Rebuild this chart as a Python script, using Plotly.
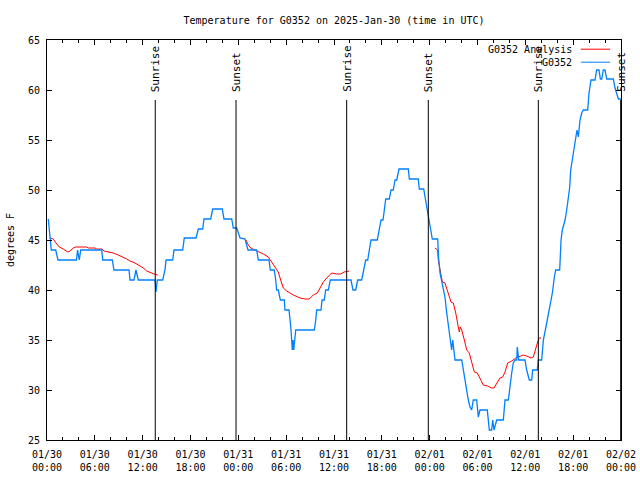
import pandas as pd
import plotly.graph_objects as go

BASE = pd.Timestamp("2025-01-30 00:00")

# Observed temperature, G0352 (hours since 01/30 00:00 UTC, degrees F)
obs_hours = [0.16, 0.34, 0.54, 1.09, 1.38, 3.70, 3.83, 4.05, 4.23, 6.86, 6.99, 8.19, 8.40, 10.29,
             10.41, 10.91, 11.16, 11.45, 13.55, 13.67, 13.84, 14.51, 14.80, 14.93, 15.77, 15.93,
             17.02, 17.22, 18.69, 18.98, 19.53, 19.69, 20.53, 20.79, 21.99, 22.20, 23.17, 23.37,
             23.80, 24.21, 24.84, 25.21, 26.30, 26.51, 27.85, 28.01, 28.51, 28.69, 28.81, 29.01,
             29.27, 29.77, 29.85, 30.36, 30.48, 30.61, 30.69, 30.77, 30.86, 30.95, 31.20, 33.53,
             33.71, 33.83, 34.37, 34.50, 34.78, 34.96, 35.29, 35.54, 38.13, 38.38, 38.72, 38.97,
             39.47, 39.68, 39.98, 40.23, 40.43, 40.64, 41.43, 41.65, 41.90, 42.15, 42.27, 42.49,
             42.94, 43.15, 43.44, 43.65, 43.87, 44.15, 45.32, 45.45, 46.57, 46.70, 47.25, 47.42,
             47.70, 47.92, 48.17, 48.33, 49.01, 49.11, 49.30, 49.51, 49.71, 49.92, 50.14, 50.34,
             50.55, 50.76, 50.89, 51.05, 51.18, 52.02, 52.22, 52.43, 52.65, 52.85, 53.06, 53.27,
             53.47, 53.90, 54.10, 54.31, 55.23, 55.36, 55.48, 55.78, 55.91, 56.07, 56.41, 57.24,
             57.45, 57.87, 58.08, 58.29, 58.49, 58.71, 58.92, 58.99, 59.17, 59.96, 60.17, 60.50,
             60.80, 60.92, 61.50, 61.63, 62.05, 62.26, 62.68, 63.10, 63.39, 63.64, 63.81, 64.31,
             64.48, 64.64, 64.98, 65.19, 65.39, 65.57, 65.69, 65.94, 66.23, 66.48, 66.65, 66.86,
             67.07, 67.27, 67.82, 67.99, 68.24, 68.74, 68.95, 69.24, 69.41, 69.58, 69.78, 69.99,
             70.21, 71.04, 71.25, 71.67, 72.00]
obs_temp = [47.1, 45.7, 44.0, 44.0, 43.0, 43.0, 44.0, 43.0, 44.0, 44.0, 43.0, 43.0, 42.0, 42.0,
            41.0, 41.0, 42.0, 41.0, 41.0, 39.8, 41.0, 41.0, 42.0, 43.0, 43.0, 44.0,
            44.0, 45.2, 45.2, 46.1, 46.1, 47.1, 47.1, 48.1, 48.1, 47.1, 47.1, 46.2,
            46.2, 45.2, 45.1, 44.0, 44.0, 43.0, 43.0, 42.0, 42.0, 41.0, 40.0, 40.0,
            39.0, 39.0, 38.0, 38.0, 37.2, 36.0, 35.0, 34.0, 35.0, 34.0, 36.0, 36.0,
            37.0, 38.0, 38.0, 39.0, 39.0, 40.0, 40.0, 41.0, 41.0, 40.0, 40.0, 41.0,
            41.0, 42.0, 43.0, 43.0, 44.0, 45.0, 45.0, 46.0, 47.0, 47.0, 48.0, 49.1,
            49.1, 50.0, 50.0, 51.0, 51.0, 52.1, 52.1, 51.1, 51.1, 50.1, 50.1, 49.1,
            48.0, 47.0, 46.0, 45.1, 45.1, 43.3, 41.7, 40.8, 40.0, 39.3, 37.7, 36.3,
            35.0, 34.0, 35.0, 34.0, 33.0, 33.0, 32.0, 30.7, 30.0, 29.0, 28.3, 28.0,
            29.0, 29.0, 27.3, 28.0, 28.0, 27.0, 26.0, 26.0, 27.0, 26.0, 27.0, 27.0,
            29.0, 29.0, 30.7, 31.7, 32.7, 33.0, 33.0, 34.3, 33.0, 33.0, 32.0, 31.0,
            31.0, 32.0, 32.0, 33.0, 33.0, 35.0, 36.7, 38.3, 39.7, 41.3, 42.0, 42.0,
            45.0, 46.0, 47.0, 48.0, 49.0, 50.3, 52.0, 53.3, 54.7, 56.0, 55.3, 57.0,
            57.7, 58.0, 58.0, 59.7, 61.0, 61.0, 62.0, 62.0, 61.1, 61.1, 62.0, 62.0,
            61.1, 61.1, 60.2, 59.1, 59.1]

# Analysis temperature (three separate stretches)
ana_hours = [0.38, 0.79, 1.13, 1.54, 2.04, 2.60, 2.89, 3.30, 3.60, 4.98, 5.18, 6.02, 6.23, 6.86,
             7.15, 7.69, 8.32, 8.94, 9.57, 10.00, 10.41, 11.04, 11.67, 12.08, 12.51, 13.01, 13.42,
             13.89, None,
             24.96, 25.25, 25.55, 26.09, 26.72, 27.13, 27.76, 28.19, 28.60, 29.01, 29.31, 29.64,
             30.07, 30.48, 30.90, 31.74, 32.36, 32.90, 33.40, 33.91, 34.24, 34.66, 35.09, 35.71,
             36.34, 36.84, 37.26, 37.92, None,
             48.67, 49.01, 49.08, 49.30, 49.59, 49.92, 50.14, 50.43, 50.68, 50.97, 51.27, 51.59,
             51.72, 51.84, 52.02, 52.35, 52.65, 52.97, 53.27, 53.60, 53.98, 54.31, 54.73, 55.28,
             55.78, 56.07, 56.41, 56.82, 57.16, 57.45, 57.79, 58.29, 58.79, 59.21, 59.75, 60.17,
             60.71, 61.00, 61.30, 61.55, 61.75, 61.97]
ana_temp = [45.2, 45.1, 44.7, 44.3, 44.1, 43.8, 43.9, 44.2, 44.3, 44.3, 44.2, 44.2, 44.1, 44.1,
            43.9, 43.8, 43.7, 43.5, 43.3, 43.1, 42.9, 42.7, 42.4, 42.2, 41.9, 41.7, 41.6,
            41.5, None,
            45.0, 44.5, 44.2, 44.0, 43.8, 43.6, 43.3, 42.8, 42.2, 41.8, 41.0, 40.2,
            39.9, 39.7, 39.5, 39.2, 39.1, 39.1, 39.5, 39.7, 40.2, 40.8, 41.2, 41.7,
            41.6, 41.6, 41.8, 41.9, None,
            44.2, 44.0, 43.0, 42.0, 40.8, 40.7, 40.2, 39.5, 38.8, 38.7, 37.7, 36.3,
            35.8, 36.3, 36.0, 35.0, 34.0, 33.7, 32.7, 31.8, 31.7, 31.2, 30.5, 30.4,
            30.2, 30.2, 30.7, 31.2, 31.3, 31.8, 32.7, 32.9, 33.2, 33.3, 33.5, 33.4,
            33.2, 33.3, 34.2, 34.8, 35.2, 35.2]

sun_hours = [13.58, 23.71, 37.59, 47.83, 61.63, 71.96]
sun_labels = ["Sunrise", "Sunset", "Sunrise", "Sunset", "Sunrise", "Sunset"]

series_names = ["G0352 Analysis", "G0352"]
series_colors = ["#ff0000", "#0080ff"]


def to_time(hours):
    return [None if h is None else BASE + pd.Timedelta(hours=h) for h in hours]


FONT = "DejaVu Sans Mono"
W, H = 640, 480

fig = go.Figure()
fig.add_trace(go.Scatter(x=to_time(ana_hours), y=ana_temp, mode="lines", name=series_names[0],
                         line=dict(color=series_colors[0], width=1), connectgaps=False))
fig.add_trace(go.Scatter(x=to_time(obs_hours), y=obs_temp, mode="lines", name=series_names[1],
                         line=dict(color=series_colors[1], width=1.3)))

for h, lab in zip(sun_hours, sun_labels):
    t = BASE + pd.Timedelta(hours=h)
    fig.add_shape(type="line", xref="x", yref="y", x0=t, x1=t, y0=25, y1=59,
                  line=dict(color="black", width=1))
    fig.add_annotation(x=t, y=59, xref="x", yref="y", text=lab, textangle=-90, showarrow=False,
                       xanchor="center", yanchor="bottom", yshift=6,
                       font=dict(family=FONT, size=11, color="black"))

# Legend (text left, line sample right, like the original)
for i, (nm, col) in enumerate(zip(series_names, series_colors)):
    yy = 0.977 - i * 0.0325
    fig.add_annotation(x=0.918, y=yy, xref="paper", yref="paper", text=nm, showarrow=False,
                       xanchor="right", yanchor="middle",
                       font=dict(family=FONT, size=10, color="black"))
    fig.add_shape(type="line", xref="paper", yref="paper", x0=0.930, x1=0.981, y0=yy, y1=yy,
                  line=dict(color=col, width=1))

fig.update_layout(
    width=W, height=H,
    margin=dict(l=47, r=19, t=40, b=40, autoexpand=False),
    paper_bgcolor="white", plot_bgcolor="white",
    showlegend=False,
    font=dict(family=FONT, size=10, color="black"),
    title=dict(text="Temperature for G0352 on 2025-Jan-30 (time in UTC)", x=0.5, xref="paper",
               xanchor="center", y=1 - 20 / H, yanchor="middle", automargin=False,
               font=dict(family=FONT, size=10, color="black")),
)
fig.update_xaxes(
    range=[BASE, BASE + pd.Timedelta(hours=72)], automargin=False,
    tick0=BASE, dtick=6 * 3600 * 1000, tickformat="%m/%d<br>%H:%M",
    ticks="inside", ticklen=5, tickcolor="black", mirror="allticks",
    showline=True, linecolor="black", linewidth=1, showgrid=False, zeroline=False,
    minor=dict(dtick=2 * 3600 * 1000, ticks="inside", ticklen=3, tickcolor="black", showgrid=False),
    tickfont=dict(family=FONT, size=10), ticklabelstandoff=5,
)
fig.update_yaxes(
    range=[25, 65], dtick=5, tick0=25, automargin=False,
    ticks="inside", ticklen=5, tickcolor="black", mirror="allticks",
    showline=True, linecolor="black", linewidth=1, showgrid=False, zeroline=False,
    title=dict(text="degrees F", standoff=11, font=dict(family=FONT, size=10)),
    tickfont=dict(family=FONT, size=10), ticklabelstandoff=4,
)

# Remove the page's default body margin so the 640x480 figure fills the window exactly,
# and let the last tick label overflow the SVG edge instead of being clipped.
fig.write_html(
    "out.html",
    config={"displayModeBar": False},
    post_script="document.body.style.margin='0px';"
                "document.querySelectorAll('svg.main-svg').forEach(function(s){s.style.overflow='visible';});",
)
